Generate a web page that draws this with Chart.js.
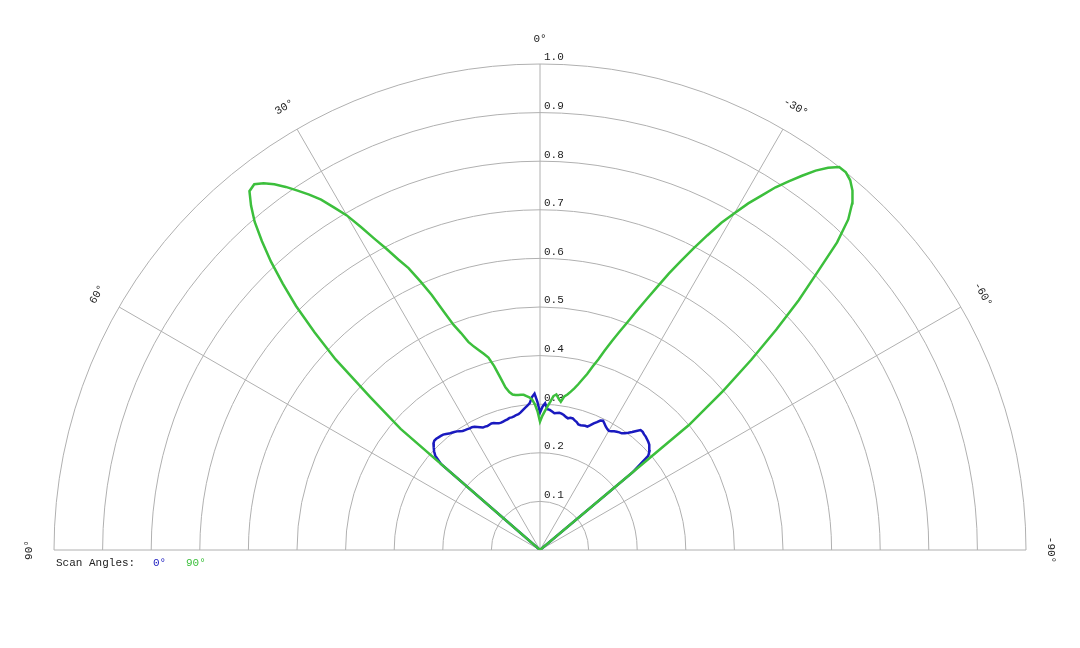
<!DOCTYPE html>
<html>
<head>
<meta charset="utf-8">
<title>Scan Angles polar plot</title>
<script src="https://cdn.jsdelivr.net/npm/chart.js@4/dist/chart.umd.min.js"></script>
<style>
  html, body { margin: 0; padding: 0; background: #fff; }
  canvas { display: block; }
</style>
</head>
<body>
<canvas id="chart" width="1080" height="648"></canvas>
<script>
// angle in degrees, positive to the left of the 0° axis
const angles = [
  -51, -50, -49, -48, -47, -46, -45, -44, -43, -42, -41, -40, -39, -38, -37, -36, -35,
  -34, -33, -32, -31, -30, -29, -28, -27, -26, -25, -24, -23, -22, -21, -20, -19, -18,
  -17, -16, -15, -14, -13, -12, -11, -10, -9, -8, -7, -6, -5, -4, -3, -2, -1,
  0, 1, 2, 3, 4, 5, 6, 7, 8, 9, 10, 11, 12, 13, 14, 15, 16, 17,
  18, 19, 20, 21, 22, 23, 24, 25, 26, 27, 28, 29, 30, 31, 32, 33, 34,
  35, 36, 37, 38, 39, 40, 41, 42, 43, 44, 45, 46, 47, 48, 49, 50
];

// scan angle 0°
const blueValues = [
  0, 0.25, 0.295, 0.303, 0.308, 0.312, 0.315, 0.317, 0.319, 0.32, 0.322, 0.322, 0.315, 0.308, 0.302, 0.297, 0.293,
  0.292, 0.29, 0.288, 0.285, 0.283, 0.285, 0.288, 0.292, 0.296, 0.294, 0.288, 0.283, 0.277, 0.272, 0.272, 0.271, 0.27,
  0.27, 0.274, 0.276, 0.279, 0.279, 0.277, 0.279, 0.282, 0.284, 0.285, 0.284, 0.283, 0.286, 0.289, 0.29, 0.302, 0.295,
  0.283, 0.305, 0.322, 0.315, 0.303, 0.298, 0.294, 0.29, 0.286, 0.283, 0.282, 0.28, 0.279, 0.279, 0.277, 0.276, 0.275, 0.274,
  0.274, 0.276, 0.278, 0.279, 0.278, 0.277, 0.278, 0.278, 0.281, 0.284, 0.287, 0.289, 0.289, 0.29, 0.291, 0.292, 0.295,
  0.298, 0.3, 0.302, 0.304, 0.307, 0.31, 0.311, 0.312, 0.313, 0.313, 0.31, 0.304, 0.298, 0.29, 0.27, 0
];

// scan angle 90°
const greenValues = [
  0, 0.40, 0.50, 0.585, 0.665, 0.74, 0.805, 0.88, 0.93, 0.96, 0.98, 0.993, 1.0, 1.0, 0.985, 0.965, 0.94,
  0.915, 0.89, 0.86, 0.832, 0.80, 0.77, 0.733, 0.697, 0.662, 0.628, 0.592, 0.56, 0.53, 0.502, 0.478, 0.455, 0.432,
  0.41, 0.393, 0.375, 0.362, 0.35, 0.34, 0.332, 0.325, 0.32, 0.308, 0.314, 0.322, 0.318, 0.306, 0.296, 0.286, 0.276,
  0.264, 0.285, 0.30, 0.31, 0.315, 0.318, 0.321, 0.322, 0.322, 0.323, 0.325, 0.331, 0.342, 0.365, 0.39, 0.41, 0.42, 0.43,
  0.44, 0.453, 0.475, 0.496, 0.53, 0.57, 0.605, 0.64, 0.665, 0.695, 0.725, 0.76, 0.795, 0.822, 0.85, 0.872, 0.892,
  0.912, 0.93, 0.945, 0.955, 0.95, 0.925, 0.895, 0.855, 0.812, 0.762, 0.71, 0.645, 0.575, 0.47, 0.38, 0
];

const seriesLabels = ['0°', '90°'];
const ringValues = [0.1, 0.2, 0.3, 0.4, 0.5, 0.6, 0.7, 0.8, 0.9, 1.0];
const ringLabels = ['0.1', '0.2', '0.3', '0.4', '0.5', '0.6', '0.7', '0.8', '0.9', '1.0'];
const spokeAngles = [90, 60, 30, 0, -30, -60, -90];
const spokeLabels = ['90°', '60°', '30°', '0°', '-30°', '-60°', '-90°'];
const legendTitle = 'Scan Angles:';

const BLUE = '#1a1abf';
const GREEN = '#3cbf3c';
const FONT = '11px "Liberation Mono", "DejaVu Sans Mono", monospace';

function toXY(values) {
  return values.map((r, i) => {
    const t = angles[i] * Math.PI / 180;
    return { x: -r * Math.sin(t), y: r * Math.cos(t) };
  });
}

const polarGrid = {
  id: 'polarGrid',
  beforeDatasetsDraw(chart) {
    const { ctx, scales: { x, y } } = chart;
    const cx = x.getPixelForValue(0);
    const cy = y.getPixelForValue(0);
    const unit = x.getPixelForValue(1) - cx;
    ctx.save();
    ctx.strokeStyle = '#b0b0b0';
    ctx.lineWidth = 1;
    ringValues.forEach(r => {
      ctx.beginPath();
      ctx.arc(cx, cy, r * unit, Math.PI, 2 * Math.PI);
      ctx.stroke();
    });
    spokeAngles.forEach(a => {
      const t = a * Math.PI / 180;
      ctx.beginPath();
      ctx.moveTo(cx, cy);
      ctx.lineTo(cx - unit * Math.sin(t), cy - unit * Math.cos(t));
      ctx.stroke();
    });

    ctx.font = FONT;
    ctx.fillStyle = '#222';
    ctx.textAlign = 'left';
    ctx.textBaseline = 'bottom';
    ringValues.forEach((r, i) => {
      ctx.fillText(ringLabels[i], cx + 4, cy - r * unit - 1);
    });

    // angle labels, turned along the outer ring
    ctx.textAlign = 'center';
    ctx.textBaseline = 'middle';
    const labelR = unit * 1.052;
    spokeAngles.forEach((a, i) => {
      const t = a * Math.PI / 180;
      ctx.save();
      ctx.translate(cx - labelR * Math.sin(t), cy - labelR * Math.cos(t));
      ctx.rotate(-t);
      ctx.fillText(spokeLabels[i], 0, 0);
      ctx.restore();
    });
    ctx.restore();
  },
  afterDraw(chart) {
    const { ctx } = chart;
    ctx.save();
    ctx.font = FONT;
    ctx.textAlign = 'left';
    ctx.textBaseline = 'middle';
    ctx.fillStyle = '#222';
    ctx.fillText(legendTitle, 56, 563);
    const xs = [153, 186];
    chart.data.datasets.forEach((ds, i) => {
      ctx.fillStyle = ds.borderColor;
      ctx.fillText(ds.label, xs[i], 563);
    });
    ctx.restore();
  }
};

new Chart(document.getElementById('chart'), {
  type: 'scatter',
  data: {
    datasets: [
      { label: seriesLabels[0], data: toXY(blueValues), borderColor: BLUE, order: 1 },
      { label: seriesLabels[1], data: toXY(greenValues), borderColor: GREEN, order: 0 }
    ]
  },
  options: {
    responsive: false,
    animation: false,
    showLine: true,
    layout: { padding: { left: 54, right: 54, top: 64, bottom: 98 } },
    elements: {
      point: { radius: 0, hoverRadius: 0 },
      line: { borderWidth: 2.5, tension: 0, fill: false }
    },
    scales: {
      x: { type: 'linear', min: -1, max: 1, display: false },
      y: { type: 'linear', min: 0, max: 1, display: false }
    },
    plugins: {
      legend: { display: false },
      tooltip: { enabled: false }
    }
  },
  plugins: [polarGrid]
});
</script>
</body>
</html>
